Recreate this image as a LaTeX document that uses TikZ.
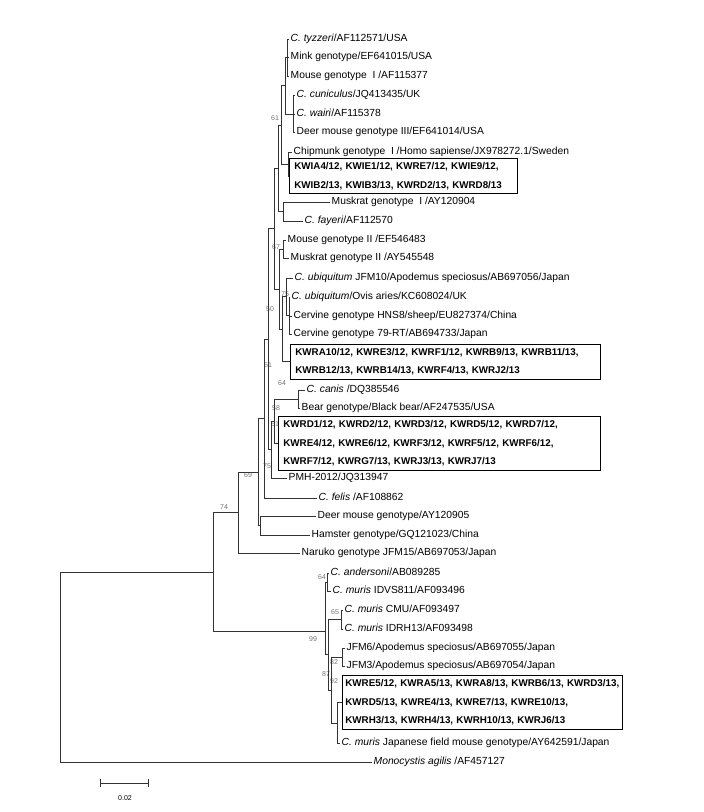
\documentclass[tikz,border=0pt]{standalone}
\usepackage{fontspec}
\setmainfont{Liberation Sans}
\begin{document}
\begin{tikzpicture}[x=1pt, y=-1pt,
                    leaf/.style = {anchor=west, inner sep=1.5pt,
                        text height=7.5pt, text depth=2pt,
                        font=\fontsize{10.3}{12}\selectfont},
                    grp/.style = {draw, anchor=west, align=left,
                        inner xsep=5pt, inner ysep=4pt, line width=0.8pt,
                        font=\fontsize{9.8}{18.5}\selectfont\bfseries},
                    boot/.style = {inner sep=0pt, text=black!55,
                        font=\fontsize{7}{8}\selectfont},
                    branch/.style = {draw=black!80, line width=0.8pt}]

        \useasboundingbox (0,0) rectangle (704,812);

        % internal nodes
        \coordinate (t1)   at (287,57);
        \coordinate (t2)   at (293,114);
        \coordinate (ta)   at (285,85.5);
        \coordinate (cb)   at (288,164);
        \coordinate (nx)   at (281,125);
        \coordinate (mf)   at (283,211.5);
        \coordinate (n61)  at (278,168);
        \coordinate (mm)   at (283,249);
        \coordinate (cv)   at (289,315.5);
        \coordinate (n75u) at (286,296.75);
        \coordinate (n50)  at (282,329);
        \coordinate (nu)   at (279,289);
        \coordinate (nup)  at (274,228.5);
        \coordinate (ncb)  at (298,399);
        \coordinate (n58)  at (274,421);
        \coordinate (n75)  at (271,449.5);
        \coordinate (nc)   at (268,339);
        \coordinate (nb)   at (264,418.5);
        \coordinate (ndh)  at (260,525.5);
        \coordinate (n69)  at (258,472);
        \coordinate (n74)  at (238,512.5);
        \coordinate (n64m) at (327,582);
        \coordinate (n65)  at (341,619.5);
        \coordinate (n82)  at (342,657);
        \coordinate (n92)  at (337,723);
        \coordinate (n87)  at (331,690);
        \coordinate (nr)   at (328,654.75);
        \coordinate (n99)  at (325,631);
        \coordinate (ning) at (213,572);
        \coordinate (root) at (60,664);

        % taxa
        \node[leaf] (l1)  at (289,39)  {\textit{C. tyzzeri}/AF112571/USA};
        \node[leaf] (l2)  at (289,57)  {Mink genotype/EF641015/USA};
        \node[leaf] (l3)  at (289,76)  {Mouse genotype \ I /AF115377};
        \node[leaf] (l4)  at (295,95)  {\textit{C. cuniculus}/JQ413435/UK};
        \node[leaf] (l5)  at (295,114) {\textit{C. wairi}/AF115378};
        \node[leaf] (l6)  at (295,132) {Deer mouse genotype III/EF641014/USA};
        \node[leaf] (l7)  at (292,152) {Chipmunk genotype \ I /Homo sapiense/JX978272.1/Sweden};
        \node[grp, text width=218pt] (g1) at (289,176)
            {KWIA4/12, KWIE1/12, KWRE7/12, KWIE9/12,\\
             KWIB2/13, KWIB3/13, KWRD2/13, KWRD8/13};
        \node[leaf] (l9)  at (330,202) {Muskrat genotype \ I /AY120904};
        \node[leaf] (l10) at (303,221) {\textit{C. fayeri}/AF112570};
        \node[leaf] (l11) at (286,240) {Mouse genotype II /EF546483};
        \node[leaf] (l12) at (289,258) {Muskrat genotype II /AY545548};
        \node[leaf] (l13) at (293,278) {\textit{C. ubiquitum} JFM10/Apodemus speciosus/AB697056/Japan};
        \node[leaf] (l14) at (290,297) {\textit{C. ubiquitum}/Ovis aries/KC608024/UK};
        \node[leaf] (l15) at (292,316) {Cervine genotype HNS8/sheep/EU827374/China};
        \node[leaf] (l16) at (292,334) {Cervine genotype 79-RT/AB694733/Japan};
        \node[grp, text width=300pt] (g2) at (290,361.5)
            {KWRA10/12, KWRE3/12, KWRF1/12, KWRB9/13, KWRB11/13,\\
             KWRB12/13, KWRB14/13, KWRF4/13, KWRJ2/13};
        \node[leaf] (l18) at (305,390) {\textit{C. canis} /DQ385546};
        \node[leaf] (l19) at (300,408) {Bear genotype/Black bear/AF247535/USA};
        \node[grp, text width=312pt] (g3) at (278,443.5)
            {KWRD1/12, KWRD2/12, KWRD3/12, KWRD5/12, KWRD7/12,\\
             KWRE4/12, KWRE6/12, KWRF3/12, KWRF5/12, KWRF6/12,\\
             KWRF7/12, KWRG7/13, KWRJ3/13, KWRJ7/13};
        \node[leaf] (l21) at (287,478) {PMH-2012/JQ313947};
        \node[leaf] (l22) at (317,498) {\textit{C. felis} /AF108862};
        \node[leaf] (l23) at (316,516) {Deer mouse genotype/AY120905};
        \node[leaf] (l24) at (310,535) {Hamster genotype/GQ121023/China};
        \node[leaf] (l25) at (300,553) {Naruko genotype JFM15/AB697053/Japan};
        \node[leaf] (l26) at (329,573) {\textit{C. andersoni}/AB089285};
        \node[leaf] (l27) at (331,591) {\textit{C. muris} IDVS811/AF093496};
        \node[leaf] (l28) at (343,610) {\textit{C. muris} CMU/AF093497};
        \node[leaf] (l29) at (343,629) {\textit{C. muris} IDRH13/AF093498};
        \node[leaf] (l30) at (345,648) {JFM6/Apodemus speciosus/AB697055/Japan};
        \node[leaf] (l31) at (345,666) {JFM3/Apodemus speciosus/AB697054/Japan};
        \node[grp, inner xsep=3pt, text width=274pt] (g4) at (342,702.5)
            {KWRE5/12, KWRA5/13, KWRA8/13, KWRB6/13, KWRD3/13,\\
             KWRD5/13, KWRE4/13, KWRE7/13, KWRE10/13,\\
             KWRH3/13, KWRH4/13, KWRH10/13, KWRJ6/13};
        \node[leaf] (l33) at (340,743) {\textit{C. muris} Japanese field mouse genotype/AY642591/Japan};
        \node[leaf] (l34) at (372,762) {\textit{Monocystis agilis} /AF457127};

        % bootstrap values
        \node[boot] (b1)  at (275,118) {61};
        \node[boot] (b2)  at (276,247) {67};
        \node[boot] (b3)  at (285,294) {75};
        \node[boot] (b4)  at (270,309) {50};
        \node[boot] (b5)  at (268,365) {61};
        \node[boot] (b6)  at (282,383) {64};
        \node[boot] (b7)  at (276,408) {58};
        \node[boot] (b8)  at (275,424) {61};
        \node[boot] (b9)  at (267,466) {75};
        \node[boot] (b10) at (248,475) {69};
        \node[boot] (b11) at (224,507) {74};
        \node[boot] (b12) at (322,577) {64};
        \node[boot] (b13) at (335,612) {65};
        \node[boot] (b14) at (313,639) {99};
        \node[boot] (b15) at (334,662) {82};
        \node[boot] (b16) at (326,674) {87};
        \node[boot] (b17) at (334,681) {92};

        \draw[branch] (t1) |- (l1.west)  (t1) |- (l2.west)  (t1) |- (l3.west)
                      (t2) |- (l4.west)  (t2) |- (l5.west)  (t2) |- (l6.west)
                      (ta) |- (t1)  (ta) |- (t2)
                      (cb) |- (l7.west)  (cb) |- (g1.west)
                      (nx) |- (ta)  (nx) |- (cb)
                      (mf) |- (l9.west)  (mf) |- (l10.west)
                      (n61) |- (nx)  (n61) |- (mf)
                      (mm) |- (l11.west)  (mm) |- (l12.west)
                      (cv) |- (l14.west)  (cv) |- (l15.west)  (cv) |- (l16.west)
                      (n75u) |- (l13.west)  (n75u) |- (cv)
                      (n50) |- (n75u)  (n50) |- (g2.west)
                      (nu) |- (mm)  (nu) |- (n50)
                      (nup) |- (n61)  (nup) |- (nu)
                      (ncb) |- (l18.west)  (ncb) |- (l19.west)
                      (n58) |- (ncb)  (n58) |- (g3.west)
                      (n75) |- (n58)  (n75) |- (l21.west)
                      (nc) |- (nup)  (nc) |- (n75)
                      (nb) |- (nc)  (nb) |- (l22.west)
                      (ndh) |- (l23.west)  (ndh) |- (l24.west)
                      (n69) |- (nb)  (n69) |- (ndh)
                      (n74) |- (n69)  (n74) |- (l25.west)
                      (n64m) |- (l26.west)  (n64m) |- (l27.west)
                      (n65) |- (l28.west)  (n65) |- (l29.west)
                      (n82) |- (l30.west)  (n82) |- (l31.west)
                      (n92) |- (g4.west)  (n92) |- (l33.west)
                      (n87) |- (n82)  (n87) |- (n92)
                      (nr) |- (n65)  (nr) |- (n87)
                      (n99) |- (n64m)  (n99) |- (nr)
                      (ning) |- (n74)  (ning) |- (n99)
                      (root) |- (ning)  (root) |- (l34.west);

        % scale bar
        \coordinate (sa) at (100,783);
        \coordinate (sb) at (149,783);
        \draw[branch, |-|] (sa) -- (sb);
        \node[boot, text=black] (sl) at (125,798) {0.02};

\end{tikzpicture}
\end{document}
